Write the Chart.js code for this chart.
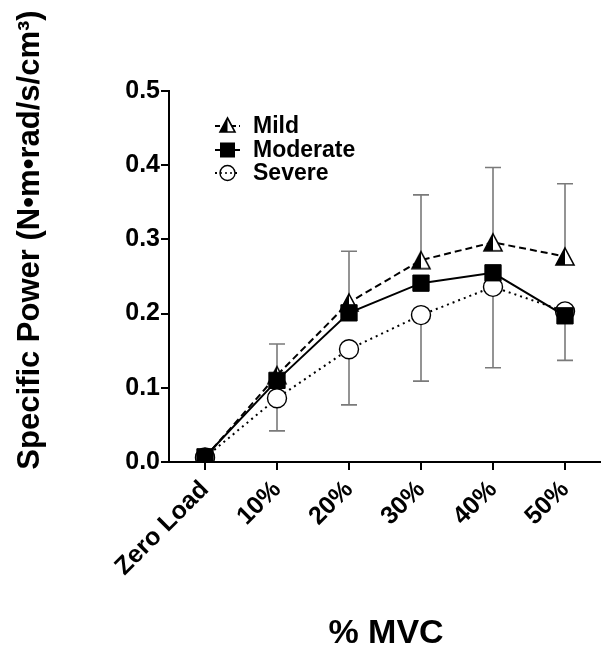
<!DOCTYPE html>
<html>
<head>
<meta charset="utf-8">
<script src="https://cdn.jsdelivr.net/npm/chart.js@4/dist/chart.umd.min.js"></script>
<style>
  html, body { margin: 0; padding: 0; background: #fff; }
  canvas { display: block; }
</style>
</head>
<body>
<canvas id="c" width="601" height="653"></canvas>
<script>
const categories = ['Zero Load', '10%', '20%', '30%', '40%', '50%'];
const mild = [0.006, 0.117, 0.215, 0.272, 0.296, 0.277];
const moderate = [0.007, 0.110, 0.201, 0.241, 0.255, 0.197];
const severe = [0.006, 0.086, 0.152, 0.198, 0.236, 0.203];
const mildErrUp = [0.004, 0.042, 0.069, 0.088, 0.101, 0.098];
const severeErrDown = [0.003, 0.044, 0.075, 0.089, 0.109, 0.066];
const yTicks = [0, 0.1, 0.2, 0.3, 0.4, 0.5];
const seriesNames = ['Mild', 'Moderate', 'Severe'];
const yTitle = 'Specific Power (N\u2022m\u2022rad/s/cm\u00B3)';
const xTitle = '% MVC';

const FONT = '"Liberation Sans", Arial, Helvetica, sans-serif';

function triangleImage(w, h) {
  const cv = document.createElement('canvas');
  cv.width = w + 4; cv.height = h + 4;
  const g = cv.getContext('2d');
  const ax = cv.width / 2, ay = 2, by = h + 2, lx = 2, rx = w + 2;
  g.beginPath(); g.moveTo(ax, ay); g.lineTo(rx, by); g.lineTo(lx, by); g.closePath();
  g.fillStyle = '#fff'; g.fill();
  g.save(); g.clip();
  g.fillStyle = '#000'; g.fillRect(0, 0, ax, cv.height);
  g.restore();
  g.beginPath(); g.moveTo(ax, ay); g.lineTo(rx, by); g.lineTo(lx, by); g.closePath();
  g.lineWidth = 1.6; g.strokeStyle = '#000'; g.stroke();
  return cv;
}
const triImg = triangleImage(18, 17);
const triImgSmall = triangleImage(15, 14);

const errorBars = {
  id: 'errorBars',
  beforeDatasetsDraw(chart) {
    const { ctx, scales: { x, y } } = chart;
    ctx.save();
    ctx.strokeStyle = '#7a7a7a';
    ctx.lineWidth = 1.6;
    const cap = 8;
    categories.forEach((c, i) => {
      const px = x.getPixelForValue(i);
      let y0 = y.getPixelForValue(mild[i]);
      let y1 = y.getPixelForValue(mild[i] + mildErrUp[i]);
      ctx.beginPath(); ctx.moveTo(px, y0); ctx.lineTo(px, y1);
      ctx.moveTo(px - cap, y1); ctx.lineTo(px + cap, y1); ctx.stroke();
      y0 = y.getPixelForValue(severe[i]);
      y1 = y.getPixelForValue(severe[i] - severeErrDown[i]);
      ctx.beginPath(); ctx.moveTo(px, y0); ctx.lineTo(px, y1);
      ctx.moveTo(px - cap, y1); ctx.lineTo(px + cap, y1); ctx.stroke();
    });
    ctx.restore();
  }
};

const titles = {
  id: 'titles',
  afterDraw(chart) {
    const { ctx } = chart;
    ctx.save();
    ctx.fillStyle = '#000';
    ctx.font = 'bold 31px ' + FONT;
    ctx.textAlign = 'center';
    ctx.textBaseline = 'middle';
    ctx.translate(30, 240);
    ctx.rotate(-Math.PI / 2);
    ctx.fillText(yTitle, 0, 0);
    ctx.restore();

    ctx.save();
    ctx.fillStyle = '#000';
    ctx.font = 'bold 34px ' + FONT;
    ctx.textAlign = 'center';
    ctx.textBaseline = 'alphabetic';
    ctx.fillText(xTitle, 386, 643);
    ctx.restore();
  }
};

const legend = {
  id: 'customLegend',
  afterDraw(chart) {
    const { ctx } = chart;
    const rows = [126, 150, 173];
    const dashes = [[5, 3], [], [2, 3]];
    const x0 = 215, x1 = 240, mx = 227.5, tx = 253;
    ctx.save();
    rows.forEach((ry, k) => {
      ctx.strokeStyle = '#000';
      ctx.lineWidth = 2;
      ctx.setLineDash(dashes[k]);
      ctx.beginPath(); ctx.moveTo(x0, ry); ctx.lineTo(x1, ry); ctx.stroke();
      ctx.setLineDash([]);
      if (k === 0) {
        ctx.drawImage(triImgSmall, mx - triImgSmall.width / 2, ry - triImgSmall.height / 2 - 1);
      } else if (k === 1) {
        ctx.fillStyle = '#000';
        ctx.fillRect(mx - 7.5, ry - 7.5, 15, 15);
      } else {
        ctx.beginPath(); ctx.arc(mx, ry, 7.5, 0, Math.PI * 2);
        ctx.fillStyle = '#fff'; ctx.fill();
        ctx.lineWidth = 1.4; ctx.strokeStyle = '#000'; ctx.stroke();
        ctx.setLineDash([2, 3]);
        ctx.beginPath(); ctx.moveTo(x0, ry); ctx.lineTo(x1, ry); ctx.lineWidth = 1.5; ctx.stroke();
        ctx.setLineDash([]);
      }
      ctx.fillStyle = '#000';
      ctx.font = 'bold 23px ' + FONT;
      ctx.textAlign = 'left';
      ctx.textBaseline = 'middle';
      ctx.fillText(seriesNames[k], tx, ry + 1);
    });
    ctx.restore();
  }
};

new Chart(document.getElementById('c'), {
  type: 'line',
  data: {
    labels: categories,
    datasets: [
      {
        label: seriesNames[0], data: mild, order: 2,
        borderColor: '#000', borderWidth: 2, borderDash: [7, 4],
        pointStyle: triImg, pointRadius: 9, pointHoverRadius: 9,
        backgroundColor: '#fff', tension: 0, fill: false
      },
      {
        label: seriesNames[1], data: moderate, order: 0,
        borderColor: '#000', borderWidth: 2,
        pointStyle: 'rect', pointRadius: 11.5, pointHoverRadius: 11.5,
        pointBackgroundColor: '#000', pointBorderColor: '#000', pointBorderWidth: 1,
        tension: 0, fill: false
      },
      {
        label: seriesNames[2], data: severe, order: 1,
        borderColor: '#000', borderWidth: 2, borderDash: [2, 4],
        pointStyle: 'circle', pointRadius: 9.5, pointHoverRadius: 9.5,
        pointBackgroundColor: '#fff', pointBorderColor: '#000', pointBorderWidth: 1.4,
        tension: 0, fill: false
      }
    ]
  },
  options: {
    responsive: false,
    animation: false,
    events: [],
    layout: { autoPadding: false, padding: { left: 0, top: 91, right: 0, bottom: 0 } },
    plugins: { legend: { display: false }, tooltip: { enabled: false }, title: { display: false } },
    scales: {
      x: {
        type: 'category',
        offset: true,
        grid: { display: true, drawOnChartArea: false, drawTicks: true, tickLength: 8, color: '#000', lineWidth: 2 },
        border: { display: true, color: '#000', width: 2 },
        ticks: {
          color: '#000', font: { family: FONT, size: 25, weight: 'bold' },
          maxRotation: 45, minRotation: 45, padding: 5, autoSkip: false
        },
        afterFit(s) { s.height = 191; s.paddingRight = 0; s.paddingLeft = 0; }
      },
      y: {
        min: 0, max: 0.5,
        afterBuildTicks(s) { s.ticks = yTicks.map(v => ({ value: v })); },
        grid: { display: true, drawOnChartArea: false, drawTicks: true, tickLength: 8, color: '#000', lineWidth: 2 },
        border: { display: true, color: '#000', width: 2 },
        ticks: {
          color: '#000', font: { family: FONT, size: 25, weight: 'bold' }, padding: 1,
          callback: v => Number(v).toFixed(1)
        },
        afterFit(s) { s.width = 169; }
      }
    }
  },
  plugins: [errorBars, titles, legend]
});
</script>
</body>
</html>
